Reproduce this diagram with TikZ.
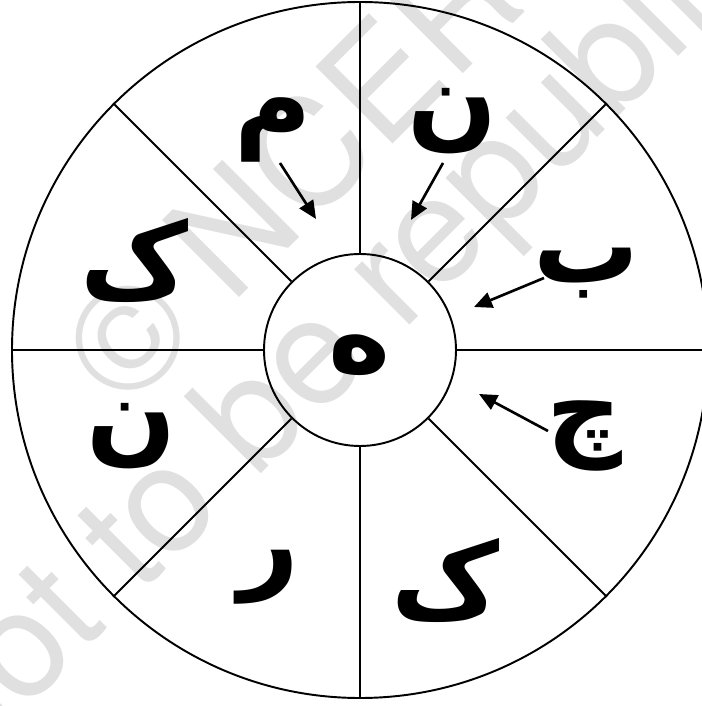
\documentclass[tikz,border=0pt]{standalone}
\usepackage{fontspec}
\newfontfamily\urdufont[Script=Arabic]{DejaVu Sans Bold}
\newfontfamily\markfont{TeX Gyre Heros}
\TeXXeTstate=1
\usetikzlibrary{arrows.meta}

\begin{document}
\begin{tikzpicture}[
    >={Triangle[length=3.6mm, width=3.2mm]},
    rim/.style={draw, circle, line width=1.1pt, inner sep=0pt},
    spoke/.style={line width=1.1pt},
    pointer/.style={->, line width=1.5pt},
    harf/.style={font=\fontsize{60}{60}\selectfont\urdufont, inner sep=0pt},
    wmark/.style={font=\fontsize{85}{85}\selectfont\markfont, text=black!12, rotate=45, anchor=base west, inner sep=0pt},
]
    \useasboundingbox (-7.2,-7.12) rectangle (6.84,7.0);
    \clip (-7.2,-7.12) rectangle (6.84,7.0);
    % faint watermark behind the wheel
    \node[wmark] (mark1) at (-4.72,-1.26) {© NCERT};
    \node[wmark] (mark2) at (-7.92,-8.42) {not to be republished};
    % wheel
    \node[rim, minimum size=13.92cm] (wheel) at (0,0) {};
    \node[rim, minimum size=3.84cm] (hub) at (0,0) {};
    \foreach \a in {0,45,...,315}
        \draw[spoke] (hub.\a) -- (wheel.\a);
    % letters
    \node[harf] (he) at (0,-0.1) {\beginR ه\endR};
    \node[harf] (mim) at (-1.74,4.40) {\beginR م\endR};
    \node[harf] (nun1) at (1.84,4.58) {\beginR ن\endR};
    \node[harf] (be) at (4.52,1.54) {\beginR ب\endR};
    \node[harf] (che) at (4.48,-1.72) {\beginR چ\endR};
    \node[harf] (kaf1) at (1.70,-4.60) {\beginR ک\endR};
    \node[harf] (re) at (-1.82,-4.54) {\beginR ر\endR};
    \node[harf] (nun2) at (-4.56,-1.72) {\beginR ن\endR};
    \node[harf] (kaf2) at (-4.52,1.80) {\beginR ک\endR};
    % arrows towards the hub
    \coordinate (mimtail) at (-1.60,3.74);
    \coordinate (mimtip) at (-0.88,2.62);
    \coordinate (nuntail) at (1.66,3.74);
    \coordinate (nuntip) at (1.02,2.60);
    \coordinate (betail) at (3.68,1.44);
    \coordinate (betip) at (2.28,0.86);
    \coordinate (chetail) at (3.76,-1.62);
    \coordinate (chetip) at (2.38,-0.88);
    \draw[pointer] (mimtail) -- (mimtip);
    \draw[pointer] (nuntail) -- (nuntip);
    \draw[pointer] (betail) -- (betip);
    \draw[pointer] (chetail) -- (chetip);
\end{tikzpicture}
\end{document}
